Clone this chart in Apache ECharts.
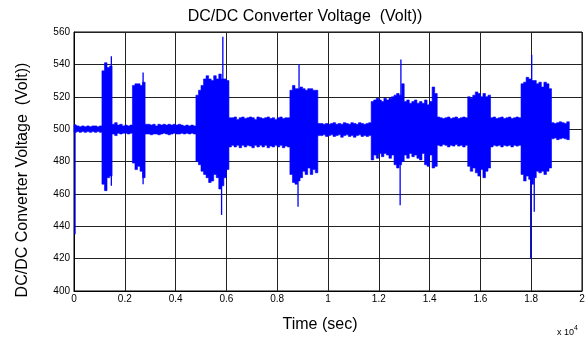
<!DOCTYPE html>
<html>
<head>
<meta charset="utf-8">
<script src="https://cdn.jsdelivr.net/npm/echarts@6/dist/echarts.min.js"></script>
<style>html,body{margin:0;padding:0;background:#fff;}#c{width:588px;height:343px;}</style>
</head>
<body>
<div id="c"></div>
<script>
// Sample times: every 100 s from 0 to 19500 s (each value holds for one step)
var tStep = 100;
// Upper envelope of the voltage (V), one value per sample time
var hi = [
502.5,502,501.5,502,501.5,502,501.5,502,502,501.5,502,536,541,538,539,503,504,502.5,503,502,
502.5,502,502.5,527,528,528,527,529,503,503,502.5,503,502,503,502.5,503,502.5,503,502.5,503,
502.5,503,502.5,502,502.5,502,502.5,502,521,524,527,531,533,531,530,533,531,534,531,531,
530,507,507,507.5,506,507,507.5,506.5,507,507.5,507,506,507.5,507,506.5,507,507.5,506.5,507,506,
507,507.5,506.5,507,507,524,527,525,525,526,525,524,525,525,524,524,503.5,503.5,503,503.5,
503,503.5,504,503,503.5,503,504,503.5,503,504,503.5,503,504,503.5,503,503.5,504,517,518,519,
518,517,519,518,519,520,521,522,521,528,517,518,516,517,518,516,517,516,518,515,
517,526,522,507.5,507,506.5,507,507.5,506.5,507,507.5,506.5,507,507.5,507,520,519,521,523,522,
520,522,520,521,507,507.5,506.5,507,507.5,506.5,507,507.5,506.5,507,507.5,507,528,529,532,531,
530,530,528,529,526,529,528,525,504,503.5,504,504.5,504,503.5,504.5,504
];
// Lower envelope of the voltage (V)
var lo = [
498,498.5,498,498.5,498,498.5,498,498.5,498,498.5,498,466,462,470,471,497,496,497.5,497,497.5,
497.5,497,497.5,479,475,477,474,470,497,497,496.5,497,497,496.5,497,497.5,497,496.5,497,497.5,
497,497,497.5,497,497.5,497,497.5,497,480,478,474,472,470,467,468,472,470,463,465,470,
475,489,490,489,490,488.5,490,489,490,489.5,488.5,490,489,490,489,490,488.5,489.5,489,490,
489,490,488.5,489.5,489,472,467,466,468,470,474,472,476,472,475,473,496,496,496.5,495.5,
496,496.5,495.5,496,496.5,495,496,496.5,495.5,496,495,496,496.5,495.5,496,495.5,496,481,484,482,
485,483,485,484,482,484,478,476,478,480,484,482,485,483,484,482,481,485,478,477,
484,476,477,490,489.5,490.5,490,489,490,489.5,490.5,489.5,490,489,490,477,474,476,473,471,
475,470,474,476,489,490,489.5,490,489,490,489.5,490,489,490,489.5,490,472,468,471,469,
466,470,474,473,474,472,474,476,494,494.5,493.5,494,494.5,494,493.5,494
];
// Isolated narrow spikes: time (s), low and high end (V)
var spikeT  = [40,  1470, 2720, 5810, 5860, 8820, 8860, 12840, 12870, 17980, 18020, 18120];
var spikeLo = [435, 465,  466,  447,  470,  452,  475,  453,   480,   420,   470,   449];
var spikeHi = [503, 545,  535,  520,  557,  500,  540,  500,   543,   505,   546,   500];

var xTicks = [0,0.2,0.4,0.6,0.8,1,1.2,1.4,1.6,1.8,2];

var n = Math.min(hi.length, lo.length);
var spikeData = [];
for (var k = 0; k < spikeT.length; k++) {
  spikeData.push([spikeT[k], spikeLo[k], spikeHi[k]]);
}
// extent helper rows so the custom band series maps onto the axes
var bandData = [[0, Math.min.apply(null, lo), Math.max.apply(null, hi)]];

function renderBand(params, api) {
  var top = [], bot = [];
  for (var i = 0; i < n - 1; i++) {
    var t0 = i * tStep, t1 = (i + 1) * tStep;
    top.push(api.coord([t0, hi[i]]), api.coord([t1, hi[i]]));
    bot.push(api.coord([t0, lo[i]]), api.coord([t1, lo[i]]));
  }
  var pts = top.concat(bot.reverse());
  return {type: 'polygon', shape: {points: pts}, style: {fill: '#0000ff', stroke: '#0000ff', lineWidth: 0.6}, silent: true};
}
function renderSpike(params, api) {
  var p = api.coord([api.value(0), api.value(1)]);
  var q = api.coord([api.value(0), api.value(2)]);
  return {type: 'line', shape: {x1: p[0], y1: p[1], x2: q[0], y2: q[1]},
    style: {stroke: '#0000ff', lineWidth: 1.3}, silent: true};
}

var FONT = '"Liberation Sans", Arial, sans-serif';
var chart = echarts.init(document.getElementById('c'), null, {renderer: 'canvas'});
chart.setOption({
  animation: false,
  backgroundColor: '#fff',
  textStyle: {fontFamily: FONT},
  grid: {left: 74, right: 6, top: 32, bottom: 52, show: true, borderColor: '#000', borderWidth: 1, backgroundColor: 'transparent'},
  xAxis: {
    type: 'value', min: 0, max: 20000, interval: 2000,
    axisLine: {show: true, onZero: false, lineStyle: {color: '#000', width: 1}},
    axisTick: {show: false},
    axisLabel: {color: '#000', fontSize: 10, margin: 3, fontFamily: FONT,
      formatter: function (v) { return String(xTicks[Math.round(v / 2000)]); }},
    splitLine: {show: true, lineStyle: {color: '#222', width: 1}}
  },
  yAxis: {
    type: 'value', min: 400, max: 560, interval: 20,
    axisLine: {show: true, lineStyle: {color: '#000', width: 1}},
    axisTick: {show: false},
    axisLabel: {color: '#000', fontSize: 10, margin: 4, fontFamily: FONT},
    splitLine: {show: true, lineStyle: {color: '#222', width: 1}}
  },
  series: [
    {type: 'custom', data: bandData, renderItem: renderBand, silent: true,
      encode: {x: 0, y: [1, 2]}},
    {type: 'custom', data: spikeData, renderItem: renderSpike, silent: true,
      encode: {x: 0, y: [1, 2]}}
  ],
  graphic: [
    {type: 'text', x: 305, y: 17, style: {text: 'DC/DC Converter Voltage  (Volt))', font: '16px ' + FONT, fill: '#000', align: 'center', verticalAlign: 'middle'}},
    {type: 'text', x: 23, y: 180, rotation: Math.PI / 2, style: {text: 'DC/DC Converter Voltage  (Volt))', font: '16px ' + FONT, fill: '#000', align: 'center', verticalAlign: 'middle'}},
    {type: 'text', x: 320, y: 325, style: {text: 'Time (sec)', font: '16px ' + FONT, fill: '#000', align: 'center', verticalAlign: 'middle'}},
    {type: 'text', x: 557, y: 333, style: {text: 'x 10', font: '9px ' + FONT, fill: '#000', align: 'left', verticalAlign: 'middle'}},
    {type: 'text', x: 574, y: 328, style: {text: '4', font: '7px ' + FONT, fill: '#000', align: 'left', verticalAlign: 'middle'}}
  ]
});
</script>
</body>
</html>
